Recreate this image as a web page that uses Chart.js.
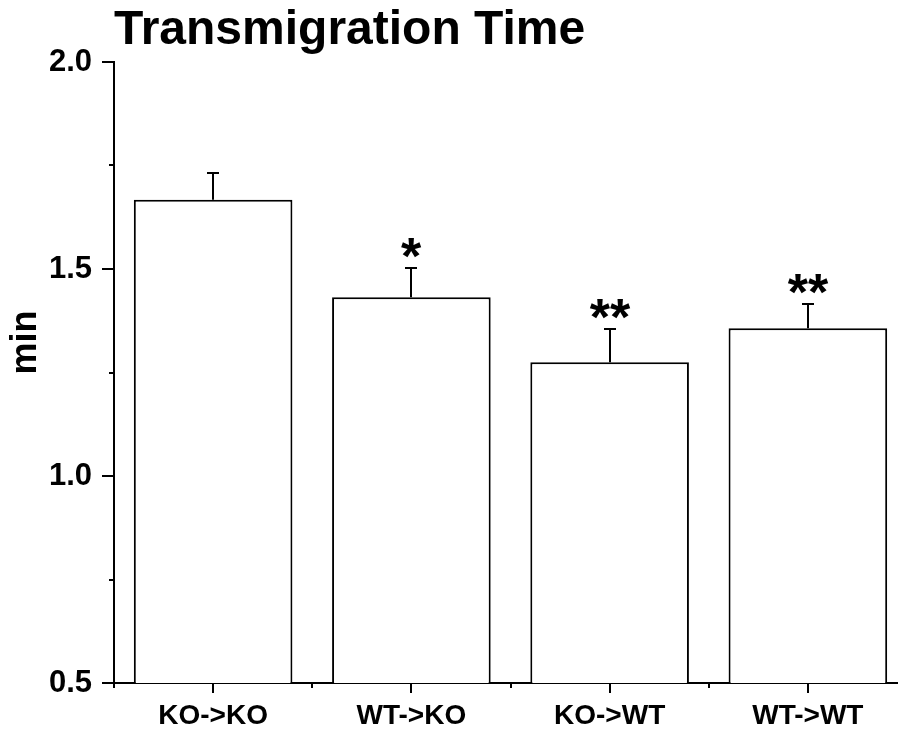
<!DOCTYPE html>
<html>
<head>
<meta charset="utf-8">
<title>Transmigration Time</title>
<script src="https://cdn.jsdelivr.net/npm/chart.js@4/dist/chart.umd.min.js"></script>
<style>
  html, body { margin: 0; padding: 0; background: #fff; overflow: hidden; }
  #wrap { width: 907px; height: 732px; }
</style>
</head>
<body>
<div id="wrap"><canvas id="myChart" width="907" height="732"></canvas></div>
<script>
const groups = ['KO->KO', 'WT->KO', 'KO->WT', 'WT->WT'];
const meanTime = [1.667, 1.432, 1.275, 1.357];
const semTime = [0.065, 0.070, 0.080, 0.058];
const signif = ['', '*', '**', '**'];
const yMin = 0.5;
const yMax = 2.0;
const yStep = 0.5;

const FONT = "'Liberation Sans', Arial, Helvetica, sans-serif";

// error bars (upper half only) + significance stars
const errorBars = {
  id: 'errorBars',
  afterDatasetsDraw(chart) {
    const { ctx, scales: { x, y } } = chart;
    ctx.save();
    ctx.strokeStyle = '#000';
    ctx.fillStyle = '#000';
    ctx.lineWidth = 2;
    ctx.font = 'bold 52px ' + FONT;
    ctx.textAlign = 'center';
    ctx.textBaseline = 'alphabetic';
    meanTime.forEach((m, i) => {
      const px = Math.round(x.getPixelForValue(i));
      const yBar = y.getPixelForValue(m);
      const yTop = Math.round(y.getPixelForValue(m + semTime[i]));
      ctx.beginPath();
      ctx.moveTo(px, yBar);
      ctx.lineTo(px, yTop);
      ctx.moveTo(px - 6, yTop);
      ctx.lineTo(px + 6, yTop);
      ctx.stroke();
      if (signif[i]) {
        const tm = ctx.measureText(signif[i]);
        ctx.fillText(signif[i], px, yTop - 10 - tm.actualBoundingBoxDescent);
      }
    });
    ctx.restore();
  }
};

// outward tick marks, long on majors, short on minors
const axisTicks = {
  id: 'axisTicks',
  afterDraw(chart) {
    const { ctx, scales: { x, y } } = chart;
    ctx.save();
    ctx.strokeStyle = '#000';
    ctx.lineWidth = 2;
    ctx.beginPath();
    for (let v = yMin; v <= yMax + 1e-9; v += yStep / 2) {
      const py = Math.round(y.getPixelForValue(v));
      const major = Math.abs(v / yStep - Math.round(v / yStep)) < 1e-6;
      ctx.moveTo(y.right, py);
      ctx.lineTo(y.right - (major ? 12 : 5), py);
    }
    const half = (x.getPixelForValue(1) - x.getPixelForValue(0)) / 2;
    groups.forEach((g, i) => {
      const px = Math.round(x.getPixelForValue(i));
      ctx.moveTo(px, x.top);
      ctx.lineTo(px, x.top + 10);
      const bx = Math.round(px - half);
      ctx.moveTo(bx, x.top);
      ctx.lineTo(bx, x.top + 5);
    });
    ctx.stroke();
    ctx.restore();
  }
};

new Chart(document.getElementById('myChart'), {
  type: 'bar',
  data: {
    labels: groups,
    datasets: [{
      data: meanTime,
      backgroundColor: '#fff',
      borderColor: '#000',
      borderWidth: 2,
      borderSkipped: 'bottom',
      barPercentage: 0.8,
      categoryPercentage: 1.0
    }]
  },
  options: {
    responsive: false,
    animation: false,
    layout: { padding: 0 },
    plugins: {
      legend: { display: false },
      tooltip: { enabled: false },
      title: {
        display: true,
        text: 'Transmigration Time',
        align: 'start',
        fullSize: false,
        color: '#000',
        font: { family: FONT, size: 48, weight: 'bold', lineHeight: 1.0 },
        padding: { top: 7, bottom: 7 }
      }
    },
    scales: {
      x: {
        grid: { display: false },
        border: { display: true, color: '#000', width: 2 },
        ticks: {
          color: '#000',
          padding: 8,
          font: { family: FONT, size: 28, weight: 'bold' }
        },
        afterFit(scale) { scale.height = 49; }
      },
      y: {
        min: yMin,
        max: yMax,
        grid: { display: false },
        border: { display: true, color: '#000', width: 2 },
        ticks: {
          stepSize: yStep,
          color: '#000',
          padding: 14,
          font: { family: FONT, size: 31, weight: 'bold' },
          callback: v => v.toFixed(1)
        },
        title: {
          display: true,
          text: '      min',
          color: '#000',
          font: { family: FONT, size: 36, weight: 'bold' },
          padding: { top: 4, bottom: 0 }
        },
        afterFit(scale) { scale.width = 114; }
      }
    }
  },
  plugins: [errorBars, axisTicks]
});
</script>
</body>
</html>
